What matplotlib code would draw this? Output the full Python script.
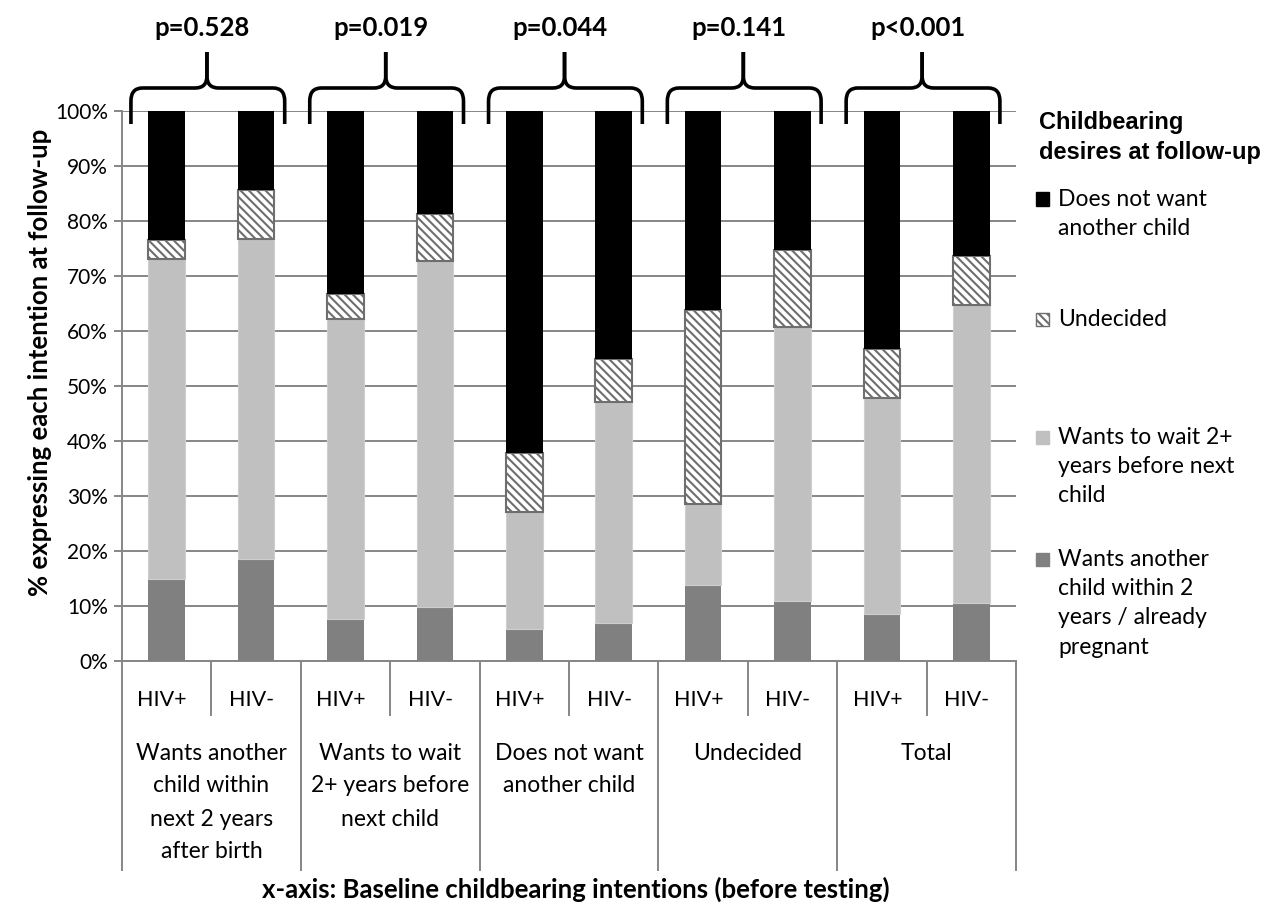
import matplotlib
matplotlib.use('Agg')
import matplotlib.pyplot as plt
from matplotlib.path import Path
from matplotlib.patches import PathPatch, Rectangle
import matplotlib.transforms as mtransforms
import numpy as np

# ---------------- data ----------------
bar_labels = ["HIV+", "HIV-"] * 5
group_labels = [
    ["Wants another", "child within", "next 2 years", "after birth"],
    ["Wants to wait", "2+ years before", "next child"],
    ["Does not want", "another child"],
    ["Undecided"],
    ["Total"],
]
p_values = ["p=0.528", "p=0.019", "p=0.044", "p=0.141", "p<0.001"]

wants_soon = [15.0, 18.6, 7.7, 9.9, 5.9, 7.0, 13.9, 10.9, 8.5, 10.6]
wait_2plus = [58.1, 58.1, 54.5, 62.8, 21.2, 40.1, 14.7, 49.9, 39.4, 54.2]
undecided = [3.4, 8.9, 4.6, 8.6, 10.7, 7.8, 35.2, 13.9, 8.8, 8.9]
no_more = [23.5, 14.4, 33.2, 18.7, 62.2, 45.1, 36.2, 25.3, 43.3, 26.3]

y_ticks = [0, 10, 20, 30, 40, 50, 60, 70, 80, 90, 100]

legend_title = ["Childbearing", "desires at follow-up"]
legend_items = [
    ["Does not want", "another child"],
    ["Undecided"],
    ["Wants to wait 2+", "years before next", "child"],
    ["Wants another", "child within 2", "years / already", "pregnant"],
]

# ---------------- styling ----------------
W, H = 1269, 909
GRID = '#868686'
DARK = '#808080'
LIGHT = '#C0C0C0'
FONT = ['Lato', 'DejaVu Sans']
plt.rcParams['hatch.linewidth'] = 1.5

def fy(px):
    return 1 - px / H

fig = plt.figure(figsize=(W / 100, H / 100), dpi=100)
ax = fig.add_axes([122 / W, fy(661), (1016 - 122) / W, (661 - 111) / H])

x = np.arange(len(bar_labels))
bw = 0.41
b1 = np.array(wants_soon)
b2 = b1 + np.array(wait_2plus)
b3 = b2 + np.array(undecided)

ax.bar(x, wants_soon, width=bw, color=DARK, edgecolor='none', zorder=3)
ax.bar(x, wait_2plus, width=bw, bottom=b1, color=LIGHT, edgecolor='#cfcfcf',
       linewidth=0.8, zorder=3)
ax.bar(x, undecided, width=bw, bottom=b2, color='white', edgecolor='#6e6e6e',
       hatch='\\\\\\\\', linewidth=1.5, zorder=3)
ax.bar(x, no_more, width=bw, bottom=b3, color='black', edgecolor='none', zorder=3)

ax.set_xlim(-0.5, len(bar_labels) - 0.5)
ax.set_ylim(0, 100)
ax.set_yticks(y_ticks)
ax.set_yticklabels([f"{v}%" for v in y_ticks], fontsize=15, family=FONT)
ax.set_xticks([])
ax.yaxis.grid(True, color=GRID, linewidth=1.4)
ax.set_axisbelow(True)
for s in ['top', 'right']:
    ax.spines[s].set_visible(False)
for s in ['left', 'bottom']:
    ax.spines[s].set_color(GRID)
    ax.spines[s].set_linewidth(1.4)
ax.tick_params(axis='y', direction='out', length=6, width=1.4, color=GRID, pad=4)

# category axis (two-level)
tr = mtransforms.blended_transform_factory(ax.transData, fig.transFigure)
for i, lab in enumerate(bar_labels):
    ax.text(x[i] - 0.05, fy(700), lab, transform=tr, ha='center', va='center',
            fontsize=15.5, family=FONT)
for g in range(5):
    xc = 2 * g + 0.5
    ax.plot([xc, xc], [fy(661), fy(715)], transform=tr, color=GRID, lw=1.4,
            clip_on=False)
for g in range(6):
    xb = 2 * g - 0.5
    ax.plot([xb, xb], [fy(661), fy(870)], transform=tr, color=GRID, lw=1.4,
            clip_on=False)
for g, lines in enumerate(group_labels):
    xc = 2 * g + 0.5
    for k, line in enumerate(lines):
        ax.text(xc, fy(753 + 33 * k), line, transform=tr, ha='center',
                va='center', fontsize=16.5, family=FONT)

# brackets with p-values
r = 0.13
for g, pv in enumerate(p_values):
    xc = 2 * g + 0.5
    L, R, T = xc - 0.9, xc + 0.82, xc - 0.05
    yb, yc, yh, ys, yt = fy(124), fy(101), fy(88), fy(76), fy(52)
    for E, sgn in ((L, 1), (R, -1)):
        verts = [(E, yb), (E, yc), (E, yh), (E + sgn * r, yh),
                 (T - sgn * r, yh), (T, yh), (T, ys), (T, yt)]
        codes = [Path.MOVETO, Path.LINETO, Path.CURVE3, Path.CURVE3,
                 Path.LINETO, Path.CURVE3, Path.CURVE3, Path.LINETO]
        ax.add_patch(PathPatch(Path(verts, codes), transform=tr, fill=False,
                               lw=2.6, color='black', clip_on=False,
                               capstyle='butt', joinstyle='round'))
    ax.text(T - 0.05, fy(28), pv, transform=tr, ha='center', va='center',
            fontsize=18.5, fontweight='bold', family=FONT)

# axis titles
fig.text(40 / W, fy(362), "% expressing each intention at follow-up",
         rotation=90, ha='center', va='center', fontsize=18.5,
         fontweight='bold', family=FONT)
fig.text(576 / W, fy(889), "x-axis: Baseline childbearing intentions (before testing)",
         ha='center', va='center', fontsize=18.5, fontweight='bold', family=FONT)

# legend (manual)
for k, line in enumerate(legend_title):
    fig.text(1039 / W, fy(122 + 30 * k), line, ha='left', va='center',
             fontsize=17, fontweight='bold', family=['Liberation Sans', 'DejaVu Sans'])
styles = [dict(facecolor='black', edgecolor='black'),
          dict(facecolor='white', edgecolor='#6e6e6e', hatch='\\\\\\\\'),
          dict(facecolor=LIGHT, edgecolor=LIGHT),
          dict(facecolor=DARK, edgecolor=DARK)]
starts = [199, 319, 437, 559]
for st, lines, y0 in zip(styles, legend_items, starts):
    fig.add_artist(Rectangle((1036 / W, fy(y0 + 6.5)), 13 / W, 13 / H,
                             transform=fig.transFigure, lw=1, **st))
    for k, line in enumerate(lines):
        fig.text(1058 / W, fy(y0 + 29.5 * k), line, ha='left', va='center',
                 fontsize=16.5, family=FONT)

fig.savefig('out.png', dpi=100)
